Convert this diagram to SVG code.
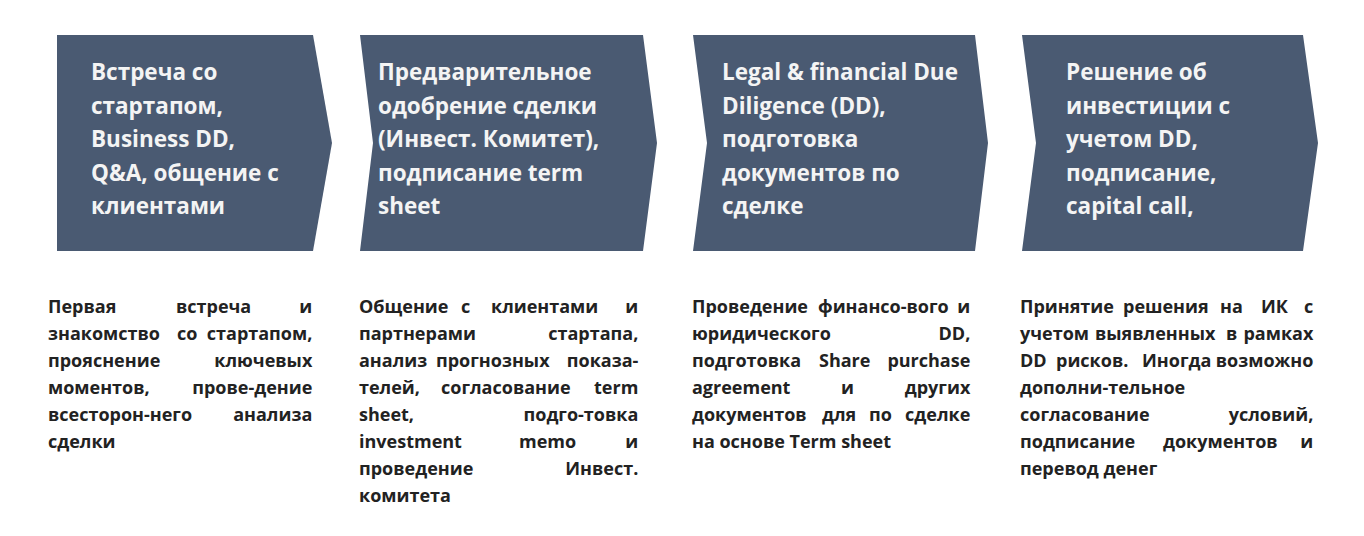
<svg xmlns="http://www.w3.org/2000/svg" width="1364" height="536" viewBox="0 0 1364 536">
<style>
.box{fill:#4a5a72}
.h{font-family:"Open Sans","Noto Sans","DejaVu Sans",sans-serif;font-weight:700;font-size:22.5px;fill:#f4f4f4}
.b{font-family:"Open Sans","Noto Sans","DejaVu Sans",sans-serif;font-weight:700;font-size:18px;fill:#222222}
.e{text-anchor:end}
</style>
<rect width="1364" height="536" fill="#ffffff"/>
<g id="connectors"/>
<g id="step1">
<polygon class="box" points="57,35 313,35 332,143 313,251 57,251"/>
<text class="h"><tspan x="91" y="80">Встреча со</tspan><tspan x="91" y="113.5">стартапом,</tspan><tspan x="91" y="147">Business DD,</tspan><tspan x="91" y="180.5">Q&amp;A, общение с</tspan><tspan x="91" y="214">клиентами</tspan></text>
<text class="b">
<tspan x="48" y="313">Первая</tspan><tspan x="176" y="313">встреча</tspan><tspan class="e" x="317" y="313">и</tspan>
<tspan x="48" y="340">знакомство</tspan><tspan x="177" y="340">со</tspan><tspan class="e" x="317" y="340">стартапом,</tspan>
<tspan x="48" y="367">прояснение</tspan><tspan class="e" x="317" y="367">ключевых</tspan>
<tspan x="48" y="394">моментов,</tspan><tspan class="e" x="317" y="394">прове-дение</tspan>
<tspan x="48" y="421">всесторон-него</tspan><tspan class="e" x="317" y="421">анализа</tspan>
<tspan x="48" y="448">сделки</tspan>
</text>
</g>
<g id="step2">
<polygon class="box" points="360,35 643,35 657,143 643,251 360,251 373,143"/>
<text class="h"><tspan x="378" y="80">Предварительное</tspan><tspan x="378" y="113.5">одобрение сделки</tspan><tspan x="378" y="147">(Инвест. Комитет),</tspan><tspan x="378" y="180.5">подписание term</tspan><tspan x="378" y="214">sheet</tspan></text>
<text class="b">
<tspan x="359" y="313">Общение</tspan><tspan x="461" y="313">с</tspan><tspan x="491" y="313">клиентами</tspan><tspan class="e" x="643" y="313">и</tspan>
<tspan x="359" y="340">партнерами</tspan><tspan class="e" x="643" y="340">стартапа,</tspan>
<tspan x="359" y="367">анализ</tspan><tspan x="436" y="367">прогнозных</tspan><tspan class="e" x="643" y="367">показа-</tspan>
<tspan x="359" y="394">телей,</tspan><tspan x="441" y="394">согласование</tspan><tspan class="e" x="643" y="394">term</tspan>
<tspan x="359" y="421">sheet,</tspan><tspan class="e" x="643" y="421">подго-товка</tspan>
<tspan x="359" y="448">investment</tspan><tspan x="519" y="448">memo</tspan><tspan class="e" x="643" y="448">и</tspan>
<tspan x="359" y="475">проведение</tspan><tspan class="e" x="643" y="475">Инвест.</tspan>
<tspan x="359" y="502">комитета</tspan>
</text>
</g>
<g id="step3">
<polygon class="box" points="693,35 975,35 988,143 975,251 693,251 707,143"/>
<text class="h"><tspan x="722" y="80">Legal &amp; financial Due</tspan><tspan x="722" y="113.5">Diligence (DD),</tspan><tspan x="722" y="147">подготовка</tspan><tspan x="722" y="180.5">документов по</tspan><tspan x="722" y="214">сделке</tspan></text>
<text class="b">
<tspan x="692" y="313">Проведение</tspan><tspan x="818" y="313">финансо-вого</tspan><tspan class="e" x="975" y="313">и</tspan>
<tspan x="692" y="340">юридического</tspan><tspan class="e" x="975" y="340">DD,</tspan>
<tspan x="692" y="367">подготовка</tspan><tspan x="819" y="367">Share</tspan><tspan class="e" x="975" y="367">purchase</tspan>
<tspan x="692" y="394">agreement</tspan><tspan x="841" y="394">и</tspan><tspan class="e" x="975" y="394">других</tspan>
<tspan x="692" y="421">документов</tspan><tspan x="822" y="421">для</tspan><tspan x="869" y="421">по</tspan><tspan class="e" x="975" y="421">сделке</tspan>
<tspan x="692" y="448">на основе Term sheet</tspan>
</text>
</g>
<g id="step4">
<polygon class="box" points="1022,35 1303,35 1318,143 1303,251 1022,251 1036,143"/>
<text class="h"><tspan x="1066" y="80">Решение об</tspan><tspan x="1066" y="113.5">инвестиции с</tspan><tspan x="1066" y="147">учетом DD,</tspan><tspan x="1066" y="180.5">подписание,</tspan><tspan x="1066" y="214">capital call,</tspan></text>
<text class="b">
<tspan x="1020" y="313">Принятие</tspan><tspan x="1123" y="313">решения</tspan><tspan x="1220" y="313">на</tspan><tspan x="1261" y="313">ИК</tspan><tspan class="e" x="1318" y="313">с</tspan>
<tspan x="1020" y="340">учетом</tspan><tspan x="1095" y="340">выявленных</tspan><tspan x="1226" y="340">в</tspan><tspan class="e" x="1318" y="340">рамках</tspan>
<tspan x="1020" y="367">DD</tspan><tspan x="1056" y="367">рисков.</tspan><tspan x="1142" y="367">Иногда</tspan><tspan class="e" x="1318" y="367">возможно</tspan>
<tspan x="1020" y="394">дополни-тельное</tspan>
<tspan x="1020" y="421">согласование</tspan><tspan class="e" x="1318" y="421">условий,</tspan>
<tspan x="1020" y="448">подписание</tspan><tspan x="1163" y="448">документов</tspan><tspan class="e" x="1318" y="448">и</tspan>
<tspan x="1020" y="475">перевод денег</tspan>
</text>
</g>
</svg>
